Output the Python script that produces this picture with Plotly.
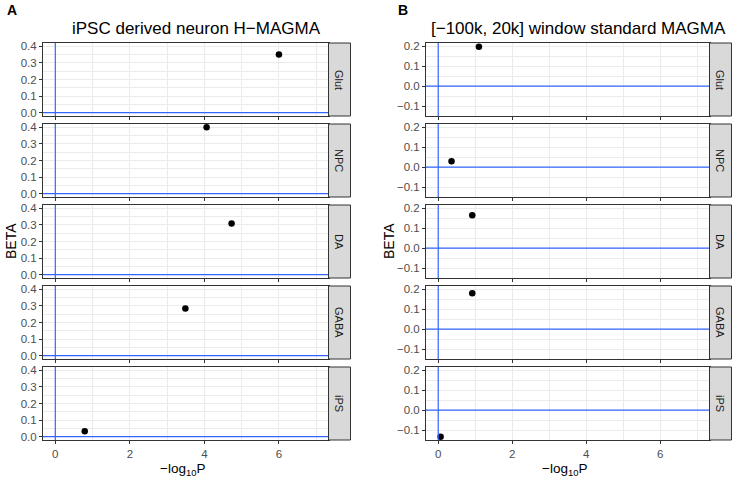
import plotly.graph_objects as go

# facet rows (top to bottom)
cell_types = ['Glut', 'NPC', 'DA', 'GABA', 'iPS']

# panel A: iPSC derived neuron H-MAGMA
hmagma_logp = [6.0, 4.06, 4.73, 3.49, 0.79]
hmagma_beta = [0.35, 0.40, 0.308, 0.284, 0.032]

# panel B: [-100k, 20k] window standard MAGMA
magma_logp = [1.1, 0.36, 0.92, 0.92, 0.065]
magma_beta = [0.198, 0.03, 0.165, 0.18, -0.133]

ref_x = 0
ref_y = 0

W, H = 736, 480
FONT = 'Liberation Sans, Arial, Helvetica, sans-serif'
BLUE = '#3366FF'
GRID = '#EBEBEB'
BORDER = '#333333'

# pixel layout of the facets
panels = {
    'A': dict(left=43, right=328.5, strip=350.5, title='iPSC derived neuron H−MAGMA',
              x=hmagma_logp, y=hmagma_beta, yrange=[-0.02, 0.42], label_x=5, beta_x=11),
    'B': dict(left=426, right=709.5, strip=731.5, title='[−100k, 20k] window standard MAGMA',
              x=magma_logp, y=magma_beta, yrange=[-0.1495, 0.2165], label_x=396, beta_x=389),
}
row_top0, row_h, row_step = 43, 73, 81
xrange_ = [-0.33, 7.33]


def px_x(p):
    return p / W


def px_y(p):
    return 1 - p / H


def text_note(text, x, y, size, angle=0, color='black', xanchor='center'):
    return dict(text=text, xref='paper', yref='paper', x=px_x(x), y=px_y(y),
                xanchor=xanchor, yanchor='middle', showarrow=False, textangle=angle,
                font=dict(family=FONT, size=size, color=color))


fig = go.Figure()
shapes = []
annotations = []
n = 0
for key, p in panels.items():
    for i, ct in enumerate(cell_types):
        n += 1
        xa = 'x' if n == 1 else f'x{n}'
        ya = 'y' if n == 1 else f'y{n}'
        top = row_top0 + i * row_step
        bot = top + row_h
        last = i == len(cell_types) - 1

        fig.add_trace(go.Scatter(
            x=[p['x'][i]], y=[p['y'][i]], mode='markers',
            marker=dict(color='black', size=6.5),
            xaxis=xa, yaxis=ya, showlegend=False, cliponaxis=True,
        ))

        axis_common = dict(
            showgrid=True, gridcolor=GRID, gridwidth=1,
            zeroline=False, showline=True, linecolor=BORDER, linewidth=1, mirror=True,
            ticks='outside', ticklen=3, tickcolor=BORDER, tickwidth=1,
            tickfont=dict(family=FONT, size=11.5, color='#4D4D4D'),
        )
        fig.layout[xa.replace('x', 'xaxis')] = dict(
            axis_common,
            domain=[px_x(p['left']), px_x(p['right'])],
            range=xrange_, tick0=0, dtick=2,
            minor=dict(showgrid=True, gridcolor=GRID, gridwidth=0.5, dtick=1, tick0=0),
            showticklabels=last, anchor=ya,
        )
        fig.layout[ya.replace('y', 'yaxis')] = dict(
            axis_common,
            domain=[px_y(bot), px_y(top)],
            range=p['yrange'], tick0=0, dtick=0.1, tickformat='.1f',
            minor=dict(showgrid=True, gridcolor=GRID, gridwidth=0.5, dtick=0.05, tick0=0.05),
            anchor=xa,
        )

        # reference lines at x=0 and y=0
        shapes.append(dict(type='line', xref=xa, yref=f'{ya} domain', x0=ref_x, x1=ref_x,
                           y0=0, y1=1, line=dict(color=BLUE, width=1.2)))
        shapes.append(dict(type='line', xref=f'{xa} domain', yref=ya, x0=0, x1=1,
                           y0=ref_y, y1=ref_y, line=dict(color=BLUE, width=1.2)))

        # facet strip
        shapes.append(dict(type='rect', xref='paper', yref='paper',
                           x0=px_x(p['right']), x1=px_x(p['strip']),
                           y0=px_y(bot), y1=px_y(top),
                           fillcolor='#D9D9D9', line=dict(color=BORDER, width=1)))
        annotations.append(text_note(ct, (p['right'] + p['strip']) / 2, (top + bot) / 2,
                                     11, angle=90, color='#1A1A1A'))

    annotations.append(text_note(p['title'], (p['left'] + p['strip']) / 2, 28, 17))
    annotations.append(text_note('<b>' + key + '</b>', p['label_x'], 10, 14, xanchor='left'))
    annotations.append(text_note('BETA', p['beta_x'], 241, 14, angle=-90))
    annotations.append(text_note('−log<sub>10</sub>P', (p['left'] + p['right']) / 2 - 3, 469, 13.5))

fig.update_layout(
    width=W, height=H,
    margin=dict(l=0, r=0, t=0, b=0, autoexpand=False),
    plot_bgcolor='white', paper_bgcolor='white',
    shapes=shapes, annotations=annotations,
    font=dict(family=FONT),
)

# drop the default page margin so the figure sits at the window's corner
fig.write_html('out.html', config={'displayModeBar': False},
               post_script="document.body.style.margin='0px';")
